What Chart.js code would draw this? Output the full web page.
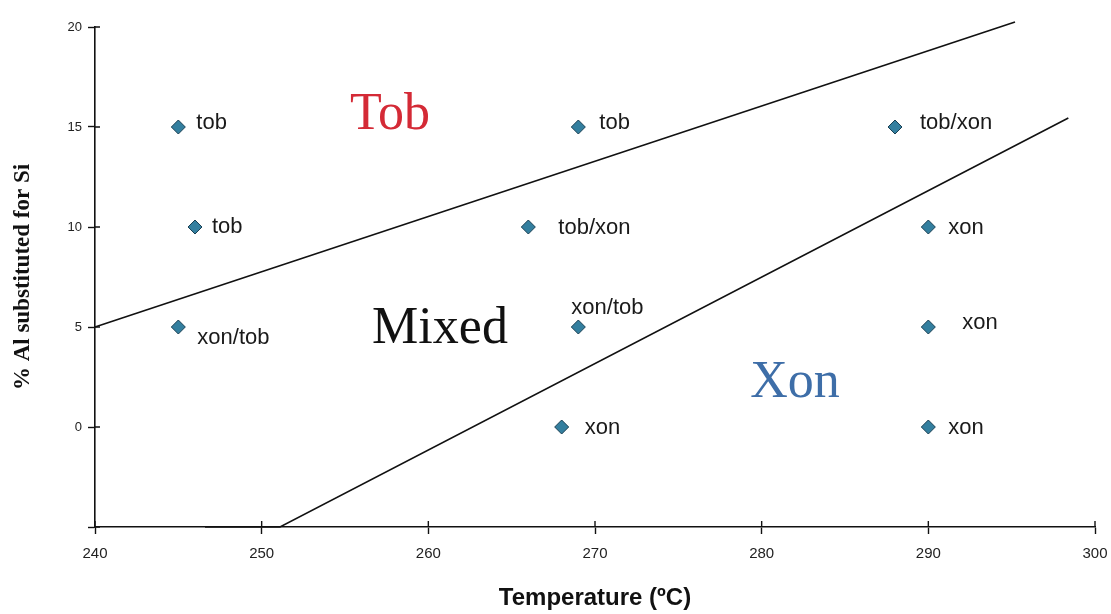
<!DOCTYPE html>
<html>
<head>
<meta charset="utf-8">
<script src="https://cdn.jsdelivr.net/npm/chart.js@4.4.1/dist/chart.umd.min.js"></script>
<style>
  html, body { margin: 0; padding: 0; background: #fff; }
  #wrap { width: 1111px; height: 614px; }
</style>
</head>
<body>
<div id="wrap"><canvas id="chart"></canvas></div>
<script>
// Samples: temperature (ºC), % Al substituted for Si, and the phase found.
const TEMPS   = [245, 246, 245, 269, 266, 269, 268, 288, 290, 290, 290];
const AL_PCT  = [15, 10, 5, 15, 10, 5, 0, 15, 10, 5, 0];
const PHASES  = ['tob', 'tob', 'xon/tob', 'tob', 'tob/xon', 'xon/tob', 'xon', 'tob/xon', 'xon', 'xon', 'xon'];

// Phase boundaries drawn on the diagram.
const UPPER_X = [240, 295.2];
const UPPER_Y = [5, 20.25];
const LOWER_X = [246.6, 251.1, 298.4];
const LOWER_Y = [-5, -5, 15.45];

// Region names and where they sit (data units).
const REGION_NAMES = ['Tob', 'Mixed', 'Xon'];
const REGION_X     = [257.7, 260.7, 282];
const REGION_Y     = [14.9, 4.2, 1.5];
const REGION_COLORS = ['#d42a36', '#111111', '#3e6ea8'];

const X_TICKS = [240, 250, 260, 270, 280, 290, 300];
const Y_TICKS = [-5, 0, 5, 10, 15, 20];

// Pixel nudges for each sample's text label (dx, dy from the marker).
const LABEL_NUDGE = [[18, -4], [17, 0], [19, 11], [21, -4], [30, 1], [-7, -19],
                     [23, 1], [25, -4], [20, 1], [34, -4], [20, 1]];

const toXY = (xs, ys) => xs.map((x, i) => ({ x, y: ys[i] }));

// Draws inner tick stubs, the phase text next to each marker and the region names.
const labelPlugin = {
  id: 'phaseLabels',
  beforeDatasetsDraw(chart) {
    const { ctx, chartArea: a, scales: { x, y } } = chart;
    ctx.save();
    ctx.strokeStyle = '#111';
    ctx.lineWidth = 1.4;
    ctx.beginPath();
    X_TICKS.forEach(v => {
      const px = x.getPixelForValue(v);
      ctx.moveTo(px, a.bottom); ctx.lineTo(px, a.bottom - 6);
    });
    Y_TICKS.forEach(v => {
      const py = y.getPixelForValue(v);
      ctx.moveTo(a.left, py); ctx.lineTo(a.left + 5, py);
    });
    ctx.stroke();
    ctx.restore();
  },
  afterDatasetsDraw(chart) {
    const { ctx, scales: { x, y } } = chart;
    ctx.save();
    ctx.fillStyle = '#1a1a1a';
    ctx.font = '22px "Liberation Sans", Arial, sans-serif';
    ctx.textAlign = 'left';
    ctx.textBaseline = 'middle';
    PHASES.forEach((txt, i) => {
      const [dx, dy] = LABEL_NUDGE[i];
      ctx.fillText(txt, x.getPixelForValue(TEMPS[i]) + dx, y.getPixelForValue(AL_PCT[i]) + dy);
    });

    ctx.font = '52px "Liberation Serif", "Times New Roman", serif';
    ctx.textAlign = 'center';
    ctx.textBaseline = 'alphabetic';
    REGION_NAMES.forEach((name, i) => {
      ctx.fillStyle = REGION_COLORS[i];
      ctx.fillText(name, x.getPixelForValue(REGION_X[i]), y.getPixelForValue(REGION_Y[i]));
    });
    ctx.restore();
  }
};

const boundary = (xs, ys) => ({
  type: 'scatter',
  data: toXY(xs, ys),
  showLine: true,
  borderColor: '#111',
  borderWidth: 1.6,
  pointRadius: 0,
  clip: false
});

new Chart(document.getElementById('chart'), {
  type: 'scatter',
  data: {
    datasets: [
      boundary(UPPER_X, UPPER_Y),
      boundary(LOWER_X, LOWER_Y),
      {
        data: toXY(TEMPS, AL_PCT),
        pointStyle: 'rectRot',
        pointRadius: 7,
        pointBackgroundColor: '#347f9f',
        pointBorderColor: '#1a3f52',
        pointBorderWidth: 1
      }
    ]
  },
  options: {
    responsive: true,
    maintainAspectRatio: false,
    animation: false,
    layout: { padding: { top: 27, right: 0, left: 0, bottom: 0 } },
    plugins: { legend: { display: false }, tooltip: { enabled: false } },
    scales: {
      x: {
        type: 'linear',
        min: 240, max: 300,
        afterBuildTicks: (scale) => { scale.ticks = X_TICKS.map(v => ({ value: v })); },
        afterFit: (scale) => { scale.height = 87; scale.paddingRight = 16; scale.paddingLeft = 0; },
        grid: { display: true, drawOnChartArea: false, drawTicks: true, tickLength: 7, tickColor: '#111', tickWidth: 1.4 },
        border: { color: '#111', width: 1.6 },
        ticks: { color: '#222', padding: 11, font: { family: '"Liberation Sans Narrow", "Liberation Sans", Arial', size: 15 } },
        title: {
          display: true,
          text: 'Temperature (ºC)',
          color: '#111',
          padding: { top: 0, bottom: 1 },
          font: { family: '"Liberation Sans Narrow", "Liberation Sans", Arial', size: 24, weight: 'bold' }
        }
      },
      y: {
        type: 'linear',
        min: -5, max: 20,
        afterBuildTicks: (scale) => { scale.ticks = Y_TICKS.map(v => ({ value: v })); },
        afterFit: (scale) => { scale.width = 95; },
        grid: { display: true, drawOnChartArea: false, drawTicks: true, tickLength: 7, tickColor: '#111', tickWidth: 1.4 },
        border: { color: '#111', width: 1.6 },
        ticks: {
          color: '#222', padding: 6,
          font: { family: '"Liberation Sans", Arial', size: 13 },
          callback: (v) => (v < 0 ? '' : v)
        },
        title: {
          display: true,
          text: '% Al substituted for Si',
          color: '#111',
          padding: { top: 9, bottom: 0 },
          font: { family: '"Liberation Serif", "Times New Roman", serif', size: 23, weight: 'bold' }
        }
      }
    }
  },
  plugins: [labelPlugin]
});
</script>
</body>
</html>
